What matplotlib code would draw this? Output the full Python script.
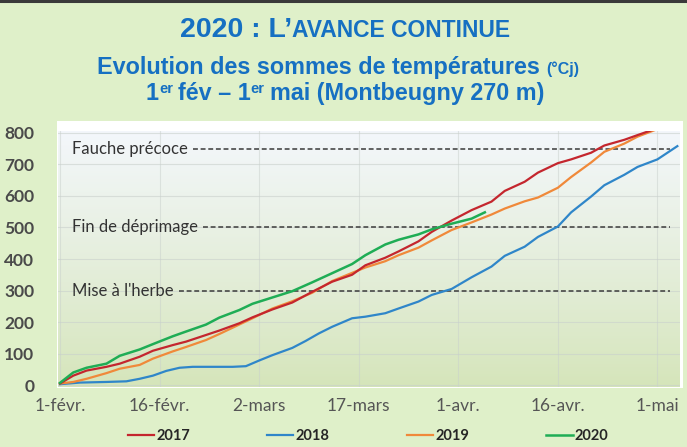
import numpy as np
import matplotlib
matplotlib.use("Agg")
import matplotlib.pyplot as plt
from matplotlib.patches import Rectangle
from matplotlib.lines import Line2D

# jours comptés depuis le 1er février, sommes de températures (°Cj)
jours_2017 = [0, 2, 4, 7, 9, 12, 14, 17, 19, 22, 24, 27, 29, 32, 35, 38, 41, 44, 46,
              49, 51, 54, 56, 59, 62, 65, 67, 70, 72, 75, 77, 80, 82, 85, 87, 90, 93]
somme_2017 = [5, 30, 46, 58, 68, 90, 109, 127, 138, 159, 173, 196, 215, 240, 262, 296, 328, 350, 380,
              404, 424, 456, 486, 522, 555, 582, 616, 645, 674, 704, 716, 737, 760, 778, 793, 815, 840]

jours_2018 = [0, 3, 7, 10, 12, 14, 16, 18, 20, 23, 26, 28, 30, 32, 35, 37, 39, 41, 44,
              46, 49, 51, 54, 56, 59, 62, 65, 67, 70, 72, 75, 77, 80, 82, 85, 87, 90, 93]
somme_2018 = [3, 8, 10, 12, 20, 30, 45, 55, 58, 58, 58, 60, 78, 95, 118, 140, 164, 185, 212,
              217, 228, 243, 265, 286, 305, 342, 376, 410, 439, 470, 503, 548, 598, 634, 667, 692, 716, 758]

jours_2019 = [0, 2, 4, 7, 9, 12, 14, 17, 19, 22, 24, 27, 29, 32, 35, 38, 41, 44, 46,
              49, 51, 54, 56, 59, 62, 65, 67, 70, 72, 75, 77, 80, 82, 85, 87, 90, 93]
somme_2019 = [5, 10, 20, 38, 52, 64, 84, 107, 121, 143, 162, 192, 212, 243, 266, 293, 330, 356, 373,
              393, 412, 436, 459, 492, 516, 541, 560, 583, 595, 626, 660, 706, 740, 766, 788, 812, 835]

jours_2020 = [0, 2, 4, 7, 9, 12, 14, 17, 19, 22, 24, 27, 29, 32, 35, 38, 41, 44, 46,
              49, 51, 54, 56, 59, 62, 64]
somme_2020 = [7, 40, 55, 68, 93, 113, 130, 155, 170, 192, 214, 238, 258, 278, 298, 326, 355, 384, 412,
              446, 461, 478, 494, 512, 528, 548]

seuils = [300, 500, 750]
seuils_txt = ["Mise à l'herbe", "Fin de déprimage", "Fauche précoce"]

tick_jours = [0, 15, 30, 45, 60, 75, 90]
tick_txt = ["1-févr.", "16-févr.", "2-mars", "17-mars", "1-avr.", "16-avr.", "1-mai"]

W, H = 687, 447
bg = "#dff0c9"
bleu = "#1670c2"

fig = plt.figure(figsize=(W / 100, H / 100), dpi=100, facecolor=bg)

def fx(px):
    return px / W

def fy(py):
    return 1 - py / H

# bord sombre en haut
fig.add_artist(Line2D([0, 1], [fy(1), fy(1)], color="#3a3a3a", lw=2.2))
# zone du graphique (blanche)
fig.add_artist(Rectangle((fx(57), fy(388)), fx(683) - fx(57), fy(121) - fy(388),
                         facecolor="white", edgecolor="none", zorder=0))

ax = fig.add_axes([fx(58), fy(387), fx(680) - fx(58), fy(131) - fy(387)])
ax.set_xlim(-0.3, 93.4)
ax.set_ylim(-6, 806)

# fond dégradé
grad = np.linspace(0, 1, 256).reshape(-1, 1)
c_top = np.array([0.955, 0.968, 0.985])
c_bot = np.array([0.835, 0.898, 0.728])
img = c_bot + (c_top - c_bot) * grad[::-1] ** 0.9
ax.imshow(img.reshape(256, 1, 3), extent=[-0.3, 93.4, -6, 806], aspect="auto",
          origin="upper", zorder=0)

for t in tick_jours:
    ax.axvline(t, color="#c9d0cc", lw=0.8, alpha=0.5, zorder=1)
for v in range(0, 900, 100):
    ax.axhline(v, color="#c9d0cc", lw=0.8, alpha=0.6, zorder=1)

for s in ax.spines.values():
    s.set_visible(False)

ax.plot(jours_2018, somme_2018, color="#2f86c9", lw=1.6, zorder=3, label="2018")
ax.plot(jours_2019, somme_2019, color="#f0893a", lw=1.6, zorder=3, label="2019")
ax.plot(jours_2017, somme_2017, color="#c4262e", lw=1.6, zorder=4, label="2017")
ax.plot(jours_2020, somme_2020, color="#1fad55", lw=1.8, zorder=5, label="2020")

ax.set_xticks(tick_jours)
ax.set_xticklabels(tick_txt, fontfamily="Lato", fontsize=12.5, color="#555555")
ax.set_yticks(range(0, 900, 100))
ax.set_yticklabels([str(v) for v in range(0, 900, 100)], fontfamily="Lato",
                   fontweight="bold", fontsize=12.5, color="#4a4a4a")
ax.tick_params(axis="both", length=0)
ax.tick_params(axis="y", pad=17)
ax.tick_params(axis="x", pad=8)

# seuils : texte + trait pointillé
renderer = fig.canvas.get_renderer()
x_fin = ax.transData.inverted().transform((fx(670) * W, 0))[0]
for v, txt in zip(seuils, seuils_txt):
    t = ax.text(1.8, v, txt, fontfamily="Lato", fontsize=12, color="#333333",
                va="center", ha="left", zorder=6)
    bb = t.get_window_extent(renderer=renderer)
    x0 = ax.transData.inverted().transform((bb.x1 + 5, 0))[0]
    ax.plot([x0, x_fin], [v, v], color="#3a3a3a", lw=1.1, ls=(0, (3.2, 1.8)), zorder=2)

# légende
h = {l.get_label(): l for l in ax.get_lines() if l.get_label() in ("2017", "2018", "2019", "2020")}
order = ["2017", "2018", "2019", "2020"]
fig.legend([h[k] for k in order], order, loc="center", bbox_to_anchor=(fx(368), fy(436)),
           ncol=4, frameon=False, handlelength=1.8, handletextpad=0.15, columnspacing=5.3,
           prop=dict(family="Lato", weight="bold", size=10.5), labelcolor="#262626")

# titres (petites capitales / exposants faits à la main)
def ligne(pieces, y_base, x_centre):
    objs = []
    total = 0
    for txt, size, rise, gap in pieces:
        t = fig.text(0, 0, txt, fontsize=size, fontweight="bold", color=bleu,
                     fontfamily="Liberation Sans", va="baseline", ha="left")
        w = t.get_window_extent(renderer=renderer).width
        objs.append((t, w, rise, gap))
        total += w + gap
    x = x_centre - total / 2
    for t, w, rise, gap in objs:
        t.set_position((fx(x), fy(y_base - rise)))
        x += w + gap

ligne([("2020 : L’", 20.5, 0, 0), ("AVANCE CONTINUE", 16.5, 0, 0)], 37, 345)
ligne([("Evolution des sommes de températures", 16.8, 0, 6), ("(°Cj)", 11.5, 0, 0)], 74, 338)
ligne([("1", 16.8, 0, 0), ("er", 10.5, 7, 5), ("fév – 1", 16.8, 0, 0), ("er", 10.5, 7, 5),
       ("mai (Montbeugny 270 m)", 16.8, 0, 0)], 100, 345)

fig.savefig("out.png", dpi=100, facecolor=bg)
